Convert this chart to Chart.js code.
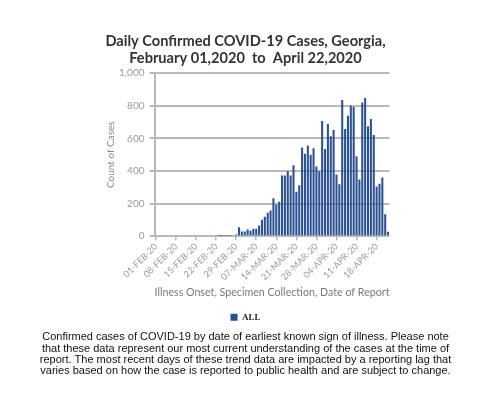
<!DOCTYPE html>
<html lang="en">
<head>
<meta charset="UTF-8">
<title>Daily Confirmed COVID-19 Cases, Georgia</title>
<script src="https://cdn.jsdelivr.net/npm/chart.js"></script>
<style>
    html, body { margin: 0; padding: 0; background: #fff; }
    #wrap { width: 491px; height: 398px; position: relative; }
</style>
</head>
<body>
<div id="wrap"><canvas id="chart"></canvas></div>
<script>
// one category per day, 01-FEB-20 .. 22-APR-20
const days = [
    '01-FEB-20','02-FEB-20','03-FEB-20','04-FEB-20','05-FEB-20','06-FEB-20','07-FEB-20',
    '08-FEB-20','09-FEB-20','10-FEB-20','11-FEB-20','12-FEB-20','13-FEB-20','14-FEB-20',
    '15-FEB-20','16-FEB-20','17-FEB-20','18-FEB-20','19-FEB-20','20-FEB-20','21-FEB-20',
    '22-FEB-20','23-FEB-20','24-FEB-20','25-FEB-20','26-FEB-20','27-FEB-20','28-FEB-20',
    '29-FEB-20','01-MAR-20','02-MAR-20','03-MAR-20','04-MAR-20','05-MAR-20','06-MAR-20',
    '07-MAR-20','08-MAR-20','09-MAR-20','10-MAR-20','11-MAR-20','12-MAR-20','13-MAR-20',
    '14-MAR-20','15-MAR-20','16-MAR-20','17-MAR-20','18-MAR-20','19-MAR-20','20-MAR-20',
    '21-MAR-20','22-MAR-20','23-MAR-20','24-MAR-20','25-MAR-20','26-MAR-20','27-MAR-20',
    '28-MAR-20','29-MAR-20','30-MAR-20','31-MAR-20','01-APR-20','02-APR-20','03-APR-20',
    '04-APR-20','05-APR-20','06-APR-20','07-APR-20','08-APR-20','09-APR-20','10-APR-20',
    '11-APR-20','12-APR-20','13-APR-20','14-APR-20','15-APR-20','16-APR-20','17-APR-20',
    '18-APR-20','19-APR-20','20-APR-20','21-APR-20','22-APR-20'
];

const cases = [
    0, 0, 0, 0, 0, 0, 0,
    0, 0, 0, 0, 0, 0, 0,
    0, 0, 0, 0, 0, 0, 0,
    0, 1, 1, 2, 2, 3, 6,
    10, 55, 29, 28, 41, 33, 45,
    45, 66, 100, 119, 144, 158, 232,
    193, 211, 372, 372, 398, 372, 435,
    273, 312, 544, 505, 556, 500, 540,
    428, 398, 706, 534, 688, 613, 652,
    378, 318, 836, 658, 738, 800, 792,
    490, 348, 820, 848, 675, 719, 620,
    304, 322, 360, 134, 27
];

const yTicks = [0, 200, 400, 600, 800, 1000];

const titleLines = [
    'Daily Confirmed COVID-19 Cases, Georgia,',
    'February 01,2020  to  April 22,2020'
];

const noteLines = [
    'Confirmed cases of COVID-19 by date of earliest known sign of illness. Please note',
    'that these data represent our most current understanding of the cases at the time of',
    'report. The most recent days of these trend data are impacted by a reporting lag that',
    'varies based on how the case is reported to public health and are subject to change.'
];

const gridGrey = '#b9b9b9';
const labelGrey = '#9a9a9a';

new Chart(document.getElementById('chart'), {
    type: 'bar',
    data: {
        labels: days,
        datasets: [{
            label: 'ALL',
            data: cases,
            backgroundColor: '#2b5193',
            barPercentage: 1,
            categoryPercentage: 0.72
        }]
    },
    options: {
        responsive: true,
        maintainAspectRatio: false,
        animation: false,
        layout: { padding: 0 },
        plugins: {
            tooltip: { enabled: false },
            title: {
                display: true,
                text: titleLines,
                color: '#333',
                font: { family: 'Lato', size: 14.6, weight: 'bold', lineHeight: 1.17 },
                padding: { top: 33, bottom: 6 }
            },
            legend: {
                display: true,
                position: 'bottom',
                labels: {
                    boxWidth: 7,
                    boxHeight: 7,
                    padding: 1,
                    color: '#222',
                    font: { family: 'Liberation Serif', size: 9, weight: 'bold' }
                }
            },
            subtitle: {
                display: true,
                position: 'bottom',
                text: noteLines,
                color: '#111',
                font: { family: 'Arial, "Liberation Sans", sans-serif', size: 11, lineHeight: 1.03 },
                padding: { top: 0, bottom: 21 }
            }
        },
        scales: {
            x: {
                offset: true,
                grid: {
                    display: true,
                    offset: false,
                    drawOnChartArea: false,
                    drawTicks: true,
                    tickLength: 4,
                    color: gridGrey,
                    lineWidth: 1.5
                },
                border: { display: false },
                ticks: {
                    autoSkip: false,
                    maxRotation: 45,
                    minRotation: 45,
                    padding: 1,
                    color: labelGrey,
                    font: { family: 'Lato', size: 9 },
                    callback: function(val, idx) {
                        return idx % 7 === 0 ? days[idx] : null;
                    }
                },
                title: {
                    display: true,
                    text: 'Illness Onset, Specimen Collection, Date of Report',
                    color: '#7a7a7a',
                    font: { family: 'Lato', size: 11 },
                    padding: { top: 2, bottom: 13 }
                }
            },
            y: {
                min: 0,
                max: 1000,
                afterBuildTicks: function(axis) {
                    axis.ticks = yTicks.map(v => ({ value: v }));
                },
                afterFit: function(scale) { scale.width = 154.5; },
                grid: {
                    color: gridGrey,
                    lineWidth: 2,
                    drawTicks: true,
                    tickLength: 5
                },
                border: { display: true, color: gridGrey, width: 2 },
                ticks: {
                    padding: 5,
                    color: labelGrey,
                    font: { family: 'Lato', size: 10 },
                    callback: v => v.toLocaleString('en-US')
                },
                title: {
                    display: true,
                    text: 'Count of Cases',
                    color: '#8a8a8a',
                    font: { family: 'Lato', size: 10 },
                    padding: { top: 105, bottom: 2 }
                }
            },
            // empty right-hand axis, only reserves the white margin on the right
            spacer: {
                type: 'linear',
                axis: 'y',
                position: 'right',
                display: true,
                grid: { display: false },
                border: { display: false },
                ticks: { display: false },
                afterFit: function(scale) { scale.width = 101.5; }
            }
        }
    }
});
</script>
</body>
</html>
